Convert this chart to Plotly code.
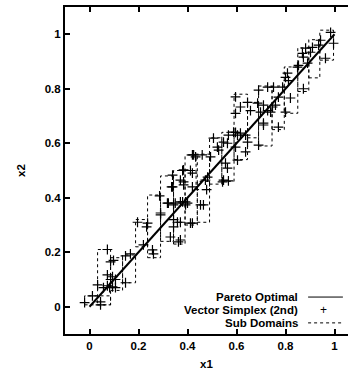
import plotly.graph_objects as go

# Pareto optimal front
pareto_x = [0.0, 0.25, 0.5, 0.75, 1.0]
pareto_y = [0.0, 0.25, 0.5, 0.75, 1.0]

# Sub domains (x0, x1, y0, y1)
box_x0 = [-0.02, 0.033, 0.086, 0.135, 0.188, 0.237, 0.29, 0.343, 0.39, 0.44, 0.435, 0.49, 0.54, 0.59, 0.645, 0.69, 0.745, 0.795, 0.85, 0.895, 0.94]
box_x1 = [0.086, 0.086, 0.135, 0.188, 0.237, 0.29, 0.343, 0.39, 0.44, 0.49, 0.49, 0.54, 0.59, 0.645, 0.69, 0.745, 0.795, 0.85, 0.895, 0.94, 0.996]
box_y0 = [0.007, 0.007, 0.06, 0.088, 0.22, 0.18, 0.24, 0.23, 0.30, 0.31, 0.43, 0.45, 0.46, 0.54, 0.62, 0.59, 0.65, 0.71, 0.79, 0.84, 0.905]
box_y1 = [0.04, 0.21, 0.18, 0.19, 0.32, 0.41, 0.48, 0.50, 0.557, 0.46, 0.56, 0.62, 0.64, 0.78, 0.75, 0.81, 0.81, 0.88, 0.95, 0.98, 1.015]

# Vector Simplex (2nd) solutions
vs_x = [-0.02, 0.012, 0.045, 0.045, 0.033, 0.057, 0.073, 0.086, 0.098, 0.073, 0.094, 0.086, 0.073, 0.094, 0.106, 0.082, 0.106,
        0.147, 0.167, 0.147, 0.196, 0.237, 0.233, 0.22, 0.257, 0.261, 0.286, 0.29, 0.335, 0.322, 0.343, 0.343, 0.33, 0.363, 0.35,
        0.425, 0.46, 0.38, 0.412, 0.339, 0.339, 0.384, 0.318, 0.38, 0.392, 0.343, 0.453, 0.29, 0.371, 0.412, 0.371,
        0.596, 0.645, 0.686, 0.616, 0.596, 0.657, 0.71, 0.69, 0.596, 0.567, 0.604, 0.637, 0.547, 0.645, 0.522, 0.527,
        0.596, 0.637, 0.494, 0.604, 0.555, 0.563, 0.433, 0.473, 0.547, 0.567,
        0.984, 0.996, 0.943, 0.935, 0.91, 0.902, 0.963, 0.869, 0.882, 0.873, 0.89, 0.853, 0.849, 0.808, 0.8, 0.812, 0.873,
        0.727, 0.751, 0.788, 0.69, 0.771, 0.82, 0.71, 0.759, 0.747, 0.727, 0.698, 0.739, 0.8, 0.71, 0.771,
        0.588, 0.616, 0.563, 0.506, 0.42, 0.384, 0.42, 0.371, 0.482, 0.543,
        0.384, 0.42, 0.371, 0.392, 0.4, 0.465, 0.359, 0.42, 0.478]
vs_y = [0.015, 0.04, 0.018, 0.007, 0.08, 0.07, 0.21, 0.165, 0.17, 0.117, 0.11, 0.1, 0.077, 0.073, 0.07, 0.07, 0.1,
        0.187, 0.194, 0.088, 0.31, 0.307, 0.293, 0.227, 0.209, 0.194, 0.407, 0.337, 0.44, 0.38, 0.32, 0.293, 0.256, 0.238, 0.38,
        0.557, 0.557, 0.5, 0.5, 0.483, 0.44, 0.458, 0.38, 0.385, 0.374, 0.374, 0.374, 0.344, 0.31, 0.307, 0.245,
        0.77, 0.75, 0.747, 0.733, 0.71, 0.72, 0.674, 0.593, 0.64, 0.63, 0.63, 0.63, 0.604, 0.604, 0.586, 0.575,
        0.586, 0.568, 0.55, 0.538, 0.527, 0.509, 0.55, 0.465, 0.465, 0.462,
        1.007, 0.967, 0.978, 0.96, 0.952, 0.934, 0.912, 0.93, 0.949, 0.916, 0.894, 0.886, 0.879, 0.857, 0.842, 0.83, 0.80,
        0.806, 0.806, 0.806, 0.795, 0.769, 0.766, 0.74, 0.74, 0.733, 0.72, 0.714, 0.714, 0.714, 0.667, 0.659,
        0.641, 0.637, 0.60, 0.619, 0.557, 0.502, 0.49, 0.465, 0.476, 0.458,
        0.447, 0.44, 0.385, 0.385, 0.38, 0.374, 0.31, 0.307, 0.43]

tick_vals = [0, 0.2, 0.4, 0.6, 0.8, 1]
tick_text = ["0", "0.2", "0.4", "0.6", "0.8", "1"]

legend_names = ["Pareto Optimal", "Vector Simplex (2nd)", "Sub Domains"]

FONT = "Liberation Sans, Arial, sans-serif"

bx, by = [], []
for a, b, c, d in zip(box_x0, box_x1, box_y0, box_y1):
    bx += [a, b, b, a, a, None]
    by += [c, c, d, d, c, None]

fig = go.Figure()
fig.add_trace(go.Scatter(x=bx, y=by, mode="lines",
                         line=dict(color="black", width=1, dash="dot"),
                         name=legend_names[2], showlegend=False))
fig.add_trace(go.Scatter(x=vs_x, y=vs_y, mode="markers",
                         marker=dict(symbol="cross-thin", size=7,
                                     line=dict(color="black", width=1.2)),
                         name=legend_names[1], showlegend=False))
fig.add_trace(go.Scatter(x=pareto_x, y=pareto_y, mode="lines",
                         line=dict(color="black", width=2),
                         name=legend_names[0], showlegend=False))

# Manual legend (text right-aligned, sample to the right)
leg_y = [0.113, 0.073, 0.034]
annotations = []
shapes = []
for name, yy in zip(legend_names, leg_y):
    annotations.append(dict(x=0.83, y=yy, xref="paper", yref="paper",
                            xanchor="right", yanchor="middle", showarrow=False,
                            text="<b>%s</b>" % name,
                            font=dict(family=FONT, size=11.5, color="black")))
shapes.append(dict(type="line", xref="paper", yref="paper", x0=0.859, x1=0.982,
                   y0=leg_y[0], y1=leg_y[0], line=dict(color="black", width=1)))
shapes.append(dict(type="line", xref="paper", yref="paper", x0=0.859, x1=0.982,
                   y0=leg_y[2], y1=leg_y[2], line=dict(color="black", width=1, dash="dot")))
annotations.append(dict(x=0.915, y=leg_y[1], xref="paper", yref="paper",
                        xanchor="center", yanchor="middle", showarrow=False,
                        text="+", font=dict(family=FONT, size=12, color="black")))

fig.update_layout(
    width=348, height=370,
    margin=dict(l=65, r=0, t=7, b=36),
    paper_bgcolor="white", plot_bgcolor="white",
    font=dict(family=FONT, size=11, color="black"),
    annotations=annotations, shapes=shapes,
    showlegend=False,
)
fig.update_xaxes(range=[-0.1, 1.055], tickvals=tick_vals,
                 ticktext=["<b>%s</b>" % t for t in tick_text],
                 ticks="inside", ticklen=5, tickwidth=1.5, tickcolor="black",
                 showline=True, linecolor="black", linewidth=2, mirror="ticks",
                 showgrid=False, zeroline=False,
                 tickfont=dict(family=FONT, size=11.5, color="black"),
                 title=dict(text="<b>x1</b>", standoff=10,
                            font=dict(family=FONT, size=11.5, color="black")))
fig.update_yaxes(range=[-0.1, 1.1], tickvals=tick_vals,
                 ticktext=["<b>%s</b>" % t for t in tick_text],
                 ticks="inside", ticklen=5, tickwidth=1.5, tickcolor="black",
                 showline=True, linecolor="black", linewidth=2, mirror=False,
                 showgrid=False, zeroline=False,
                 tickfont=dict(family=FONT, size=11.5, color="black"),
                 title=dict(text="<b>x2</b>", standoff=17,
                            font=dict(family=FONT, size=11.5, color="black")))

fig.write_html("out.html", config={"displayModeBar": False},
               post_script="document.body.style.margin='0';document.body.style.overflow='hidden';")
